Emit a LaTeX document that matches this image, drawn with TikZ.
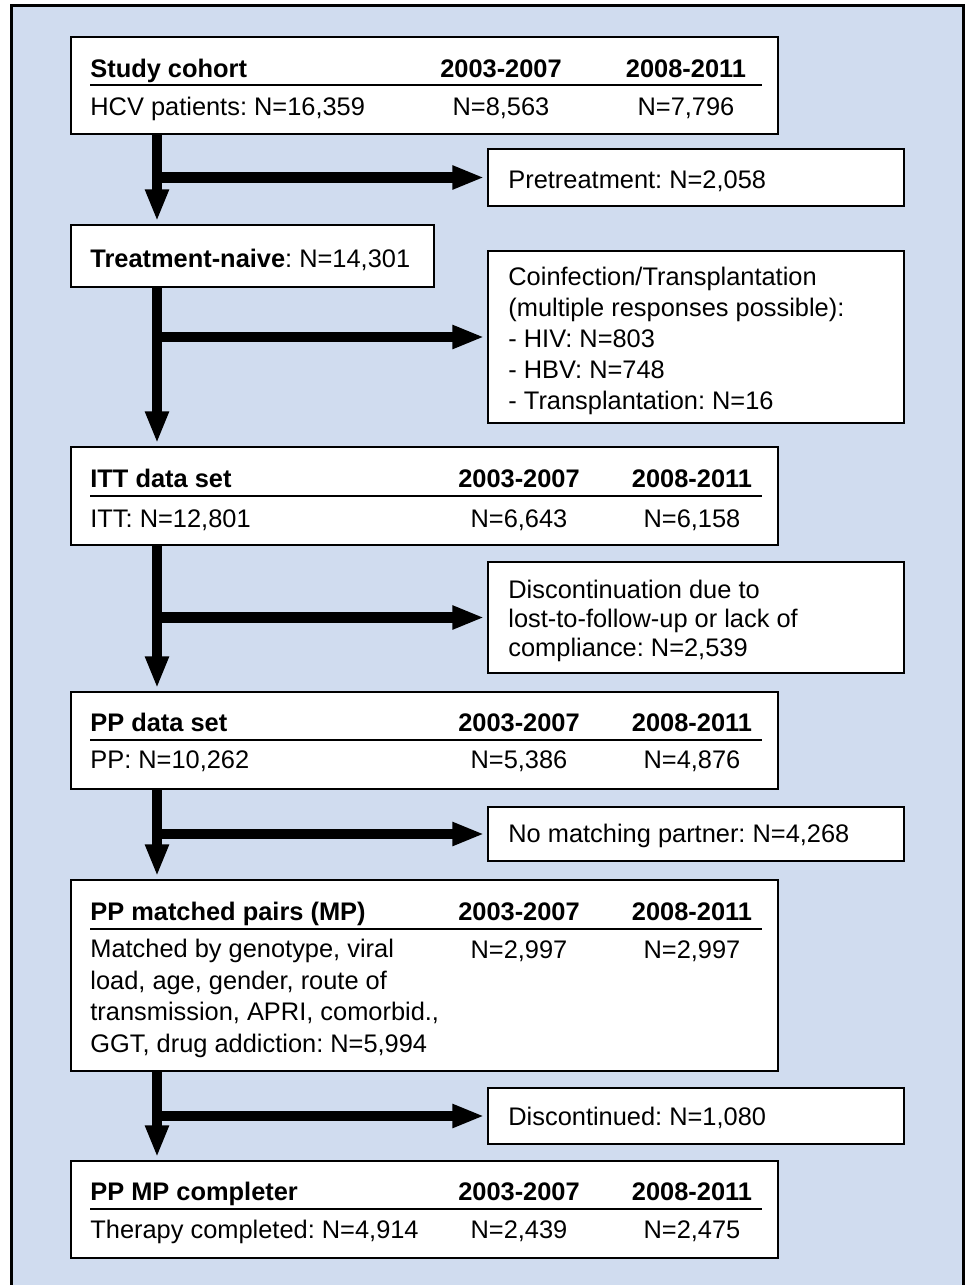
\documentclass[tikz,border=0pt]{standalone}
\usepackage{fontspec}
\setmainfont{Liberation Sans}
\usetikzlibrary{arrows.meta,fit}
\definecolor{PanelBlue}{HTML}{D0DCEF}
\tikzset{
  every node/.style={font=\fontsize{12.7}{15.5}\selectfont, text=black},
  panel/.style={draw=black, line width=1.5pt, fill=PanelBlue},
  box/.style={draw=black, line width=1.3pt, fill=white, inner sep=0pt},
  entry/.style={inner sep=0pt, anchor=base west},
  count/.style={inner sep=0pt, anchor=base},
  rule/.style={draw=black, line width=1pt},
  flow/.style={-{Triangle[length=16pt,width=11pt]}, line width=5.25pt, shorten >=1.2pt},
}
\frenchspacing

\begin{document}
\begin{tikzpicture}[x=0.5pt,y=-0.5pt]
  \useasboundingbox (0,0) rectangle (966,1285);
  \clip (0,0) rectangle (966,1285);
  % Blue panel, open at the bottom
  \draw[panel] (11,5) rectangle (963,1300);
  % Main column
  \node[box, fit={(71,37) (778,134)}] (cohort) {};
  \node[box, fit={(71,225) (434,287)}] (naive) {};
  \node[box, fit={(71,447) (778,545)}] (itt) {};
  \node[box, fit={(71,692) (778,789)}] (pp) {};
  \node[box, fit={(71,880) (778,1071)}] (mp) {};
  \node[box, fit={(71,1161) (778,1258)}] (done) {};
  % Exclusions
  \node[box, fit={(488,149) (904,206)}] (pre) {};
  \node[box, fit={(488,251) (904,423)}] (coinf) {};
  \node[box, fit={(488,562) (904,673)}] (disc) {};
  \node[box, fit={(488,807) (904,861)}] (nomatch) {};
  \node[box, fit={(488,1088) (904,1144)}] (stopped) {};

  % Study cohort
  \node[entry] (cohort-head) at (90,77) {\bfseries Study cohort};
  \node[count] (cohort-ha) at (501,77) {\bfseries 2003-2007};
  \node[count] (cohort-hb) at (686,77) {\bfseries 2008-2011};
  \draw[rule] (90,85) -- (762,85);
  \node[entry] (cohort-row) at (90,115) {HCV patients: N=16,359};
  \node[count] (cohort-a) at (501,115) {N=8,563};
  \node[count] (cohort-b) at (686,115) {N=7,796};
  % Treatment-naive
  \node[entry] (naive-row) at (90,267) {\bfseries Treatment-naive\mdseries: N=14,301};
  % ITT
  \node[entry] (itt-head) at (90,487) {\bfseries ITT data set};
  \node[count] (itt-ha) at (519,487) {\bfseries 2003-2007};
  \node[count] (itt-hb) at (692,487) {\bfseries 2008-2011};
  \draw[rule] (90,496) -- (762,496);
  \node[entry] (itt-row) at (90,527) {ITT: N=12,801};
  \node[count] (itt-a) at (519,527) {N=6,643};
  \node[count] (itt-b) at (692,527) {N=6,158};
  % PP
  \node[entry] (pp-head) at (90,731) {\bfseries PP data set};
  \node[count] (pp-ha) at (519,731) {\bfseries 2003-2007};
  \node[count] (pp-hb) at (692,731) {\bfseries 2008-2011};
  \draw[rule] (90,740) -- (762,740);
  \node[entry] (pp-row) at (90,768) {PP: N=10,262};
  \node[count] (pp-a) at (519,768) {N=5,386};
  \node[count] (pp-b) at (692,768) {N=4,876};
  % Matched pairs (multi-line text sits on its last baseline)
  \node[entry] (mp-head) at (90,920) {\bfseries PP matched pairs (MP)};
  \node[count] (mp-ha) at (519,920) {\bfseries 2003-2007};
  \node[count] (mp-hb) at (692,920) {\bfseries 2008-2011};
  \draw[rule] (90,929) -- (762,929);
  \node[entry, align=left, font=\fontsize{12.7}{15.7}\selectfont] (mp-row) at (90,1052)
    {Matched by genotype, viral\\load, age, gender, route of\\transmission, APRI, comorbid.,\\GGT, drug addiction: N=5,994};
  \node[count] (mp-a) at (519,958) {N=2,997};
  \node[count] (mp-b) at (692,958) {N=2,997};
  % Completers
  \node[entry] (done-head) at (90,1200) {\bfseries PP MP completer};
  \node[count] (done-ha) at (519,1200) {\bfseries 2003-2007};
  \node[count] (done-hb) at (692,1200) {\bfseries 2008-2011};
  \draw[rule] (90,1209) -- (762,1209);
  \node[entry] (done-row) at (90,1238) {Therapy completed: N=4,914};
  \node[count] (done-a) at (519,1238) {N=2,439};
  \node[count] (done-b) at (692,1238) {N=2,475};
  % Exclusion texts
  \node[entry] (pre-text) at (508,188) {Pretreatment: N=2,058};
  \node[entry, align=left, font=\fontsize{12.7}{15.5}\selectfont] (coinf-text) at (508,409)
    {Coinfection/Transplantation\\(multiple responses possible):\\- HIV: N=803\\- HBV: N=748\\- Transplantation: N=16};
  \node[entry, align=left, font=\fontsize{12.7}{14.3}\selectfont] (disc-text) at (508,656)
    {Discontinuation due to\\lost-to-follow-up or lack of\\compliance: N=2,539};
  \node[entry] (nomatch-text) at (508,842) {No matching partner: N=4,268};
  \node[entry] (stopped-text) at (508,1125) {Discontinued: N=1,080};

  % Flow arrows
  \coordinate (spine) at (157,0);
  \draw[flow] (cohort.south -| spine) -- (naive.north -| spine);
  \draw[flow] (naive.south -| spine) -- (itt.north -| spine);
  \draw[flow] (itt.south -| spine) -- (pp.north -| spine);
  \draw[flow] (pp.south -| spine) -- (mp.north -| spine);
  \draw[flow] (mp.south -| spine) -- (done.north -| spine);
  \foreach \out in {pre,coinf,disc,nomatch,stopped}
    \draw[flow] (\out.west -| spine) -- (\out.west);
\end{tikzpicture}
\end{document}
